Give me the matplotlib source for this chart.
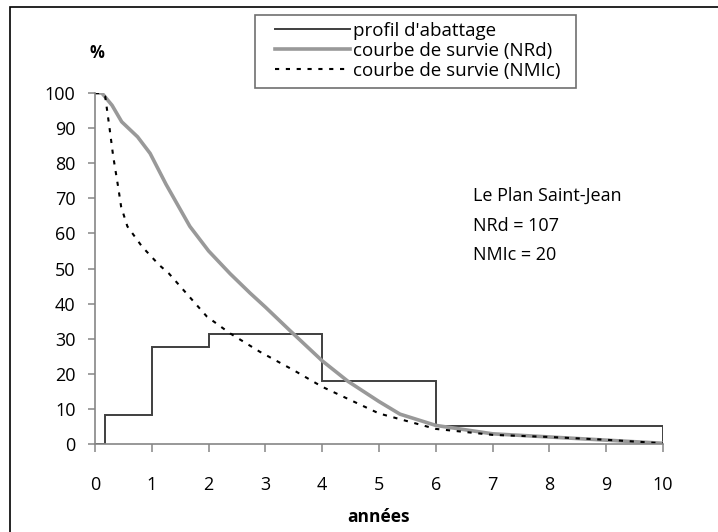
import matplotlib.pyplot as plt
from matplotlib.patches import Rectangle

plt.rcParams['font.family'] = ['Open Sans', 'DejaVu Sans']

# profil d'abattage (histogramme en escalier)
bornes = [0, 0.17, 1, 2, 4, 6, 10]
abattage = [0, 8.3, 27.6, 31.3, 17.9, 5.1]

# courbe de survie (NRd)
x_nrd = [0, 0.12, 0.3, 0.47, 0.75, 0.97, 1.25, 1.67, 2.0, 2.38, 2.73, 3.0, 3.42, 4.0,
         4.45, 5.0, 5.37, 6.0, 7.0, 8.0, 9.0, 10.0]
y_nrd = [100, 100, 96.5, 91.8, 87.5, 82.8, 74, 62, 55, 48.5, 43, 39, 32.5, 23.7,
         17.9, 12.1, 8.5, 5.3, 2.9, 2.0, 1.1, 0.2]

# courbe de survie (NMIc)
x_nmi = [0, 0.1, 0.18, 0.26, 0.32, 0.41, 0.46, 0.57, 0.83, 1.13, 1.3, 1.97,
         2.38, 2.9, 3.5, 4.0, 5.0, 6.0, 7.0, 8.0, 9.0, 10.0]
y_nmi = [100, 100, 99, 89.5, 82, 73, 67.6, 62, 56.2, 51, 48.6, 36.3,
         31.5, 26.3, 21, 16.3, 8.7, 4.3, 2.6, 2.0, 1.2, 0.2]

fig = plt.figure(figsize=(7.18, 5.32), dpi=100)
ax = fig.add_axes([95 / 718, 1 - 444 / 532, (663 - 95) / 718, (444 - 93) / 532])

ax.stairs(abattage, bornes, color='#3f3f3f', lw=1.4, label="profil d'abattage")
ax.plot(x_nrd, y_nrd, color='#999999', lw=2.6, label='courbe de survie (NRd)',
        solid_joinstyle='round')
ax.plot(x_nmi, y_nmi, color='black', lw=1.5, dashes=(2, 3.2),
        label='courbe de survie (NMIc)')

ax.set_xlim(0, 10)
ax.set_ylim(0, 100)
ax.set_xticks(range(0, 11))
ax.set_yticks(range(0, 101, 10))
for s in ['top', 'right']:
    ax.spines[s].set_visible(False)
for s in ['left', 'bottom']:
    ax.spines[s].set_color('#868686')
    ax.spines[s].set_linewidth(1.2)
ax.tick_params(axis='x', direction='out', length=6, width=1.1, color='#868686',
               pad=17, labelsize=13)
ax.tick_params(axis='y', direction='out', length=5, width=1.1, color='#868686',
               pad=9, labelsize=13)

fig.text(97 / 718, 1 - 53 / 532, '%', fontsize=12, fontweight='bold',
         ha='center', va='center')
fig.text(379 / 718, 1 - 517 / 532, 'années', fontsize=12.5, fontweight='bold',
         ha='center', va='center')

fig.text(473 / 718, 1 - 196 / 532, 'Le Plan Saint-Jean', fontsize=13, va='center')
fig.text(473 / 718, 1 - 226 / 532, 'NRd = 107', fontsize=13, va='center')
fig.text(473 / 718, 1 - 255 / 532, 'NMIc = 20', fontsize=13, va='center')

leg = ax.legend(loc='upper left', bbox_to_anchor=(275 / 718, 1 - 22 / 532),
                bbox_transform=fig.transFigure, fontsize=13.5, frameon=False,
                handlelength=4.0, handletextpad=0.15, labelspacing=0.1,
                borderpad=0, borderaxespad=0)

# cadre de la légende
fig.add_artist(Rectangle((255 / 718, 1 - 88 / 532), (576 - 255) / 718, (88 - 15) / 532,
                         transform=fig.transFigure, fill=False,
                         edgecolor='#6f6f6f', lw=1.2))

# cadre extérieur (seuls les bords haut et gauche sont visibles)
fig.add_artist(Rectangle((10 / 718, -0.1), 1.2, 1.1 - 7 / 532, transform=fig.transFigure,
                         fill=False, edgecolor='black', lw=1.2))

fig.savefig('out.png', dpi=100)
